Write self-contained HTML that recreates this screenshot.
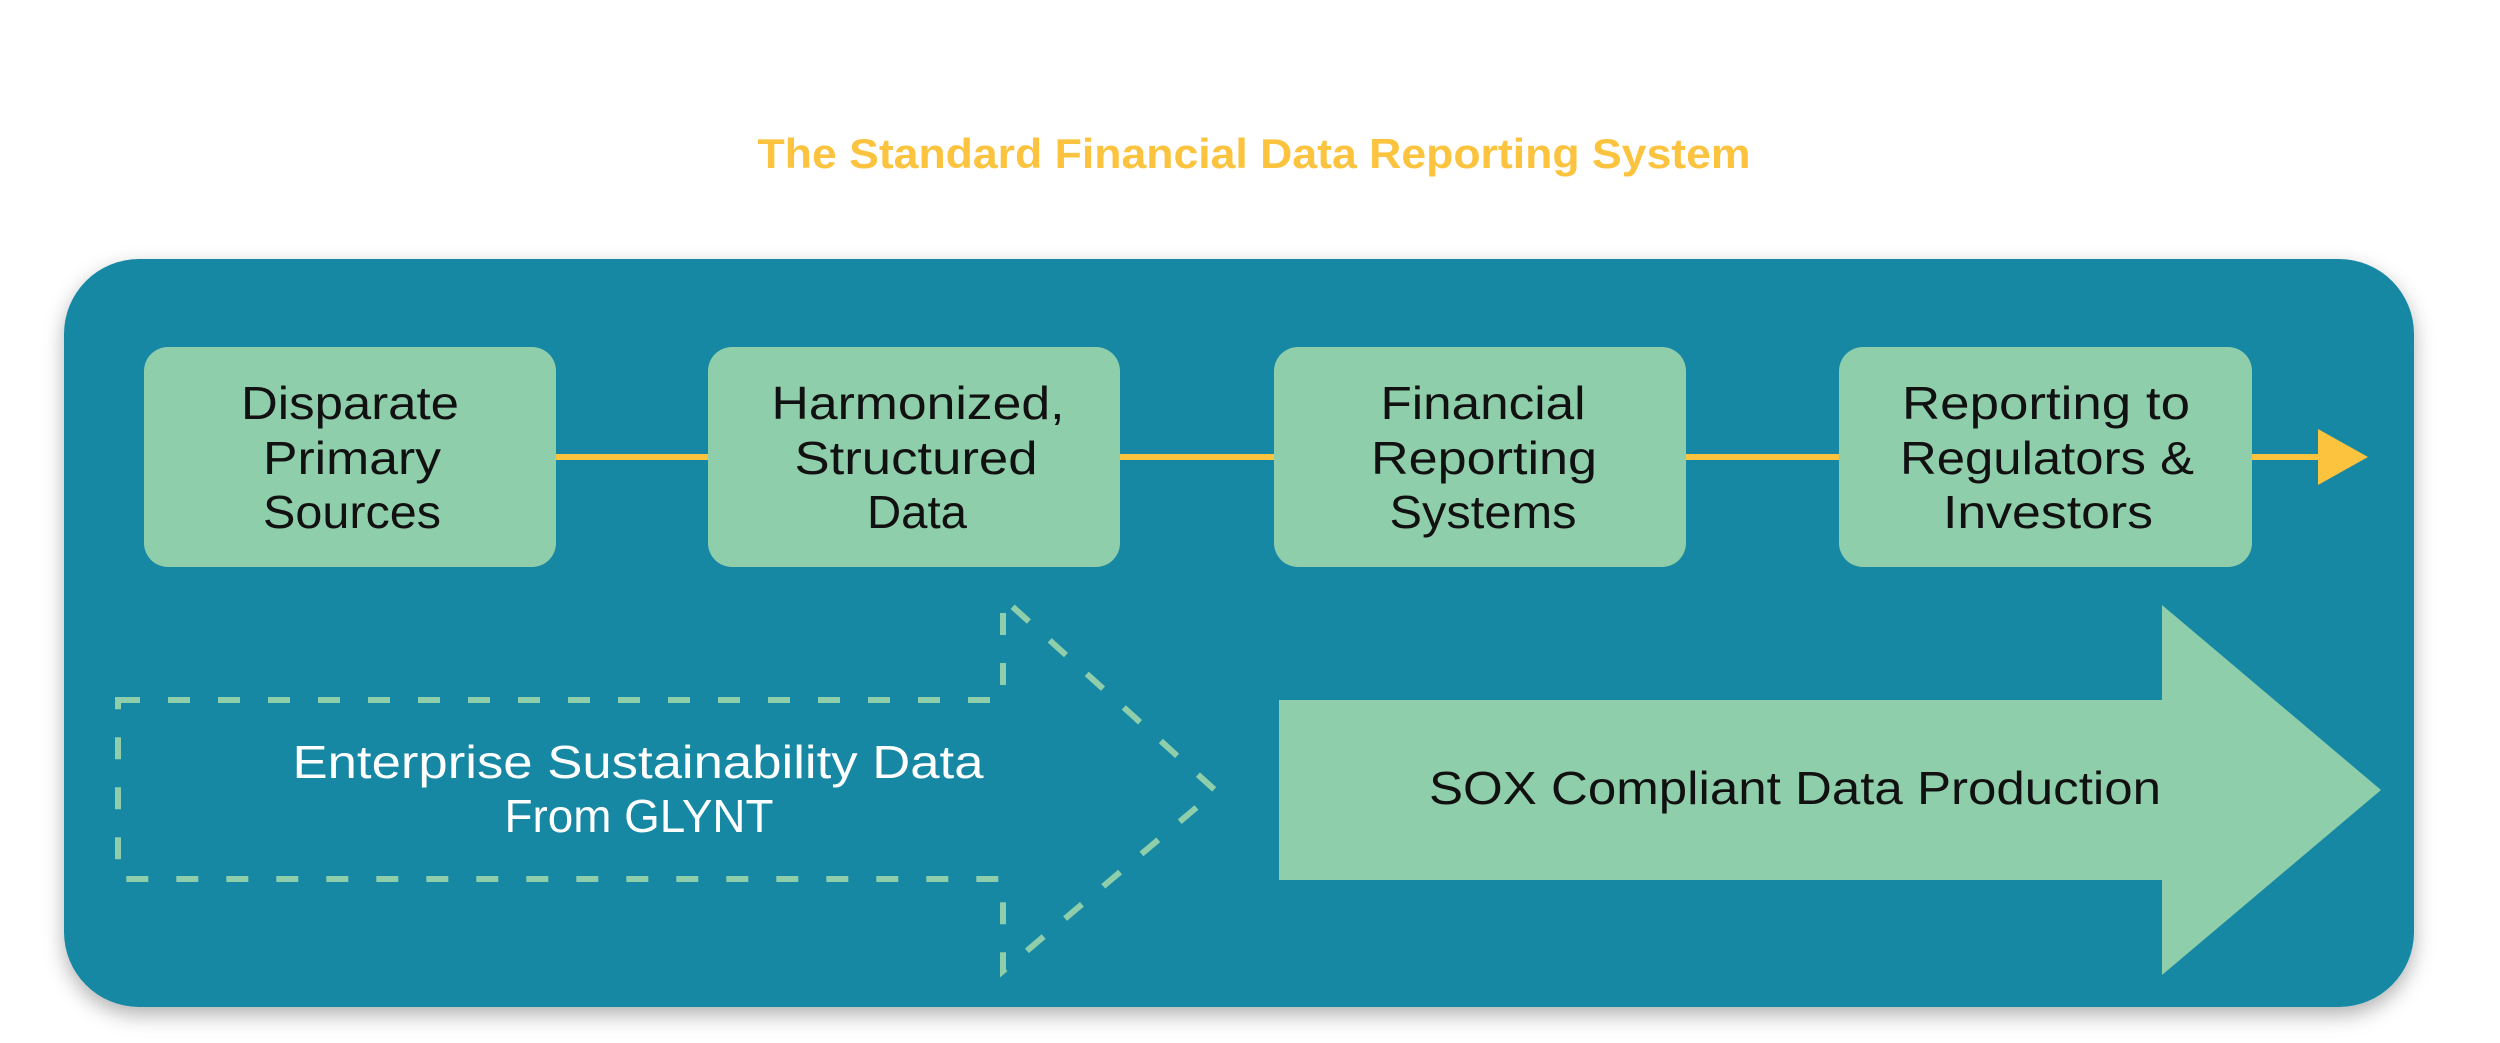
<!DOCTYPE html>
<html><head><meta charset="utf-8"><style>html,body{margin:0;padding:0;background:#fff}svg{display:block}</style></head>
<body>
<svg width="2500" height="1043" viewBox="0 0 2500 1043" xmlns="http://www.w3.org/2000/svg">
<defs>
<filter id="sh" x="-5%" y="-10%" width="110%" height="125%"><feDropShadow dx="0" dy="8" stdDeviation="10" flood-color="#000" flood-opacity="0.3"/></filter>
</defs>
<text x="1254" y="168" text-anchor="middle" font-family="Liberation Sans, sans-serif" font-weight="bold" font-size="42" fill="#fbc33e" textLength="993" lengthAdjust="spacingAndGlyphs">The Standard Financial Data Reporting System</text>
<rect x="64" y="259" width="2350" height="748" rx="75" fill="#1488a3" filter="url(#sh)"/>
<g stroke="#fbc33e" stroke-width="6">
<line x1="556" y1="457" x2="708" y2="457"/>
<line x1="1120" y1="457" x2="1274" y2="457"/>
<line x1="1686" y1="457" x2="1839" y2="457"/>
<line x1="2252" y1="457" x2="2322" y2="457"/>
</g>
<polygon points="2318,429 2368,457 2318,485" fill="#fbc33e"/>
<g fill="#8fceab">
<rect x="144" y="347" width="412" height="220" rx="24"/>
<rect x="708" y="347" width="412" height="220" rx="24"/>
<rect x="1274" y="347" width="412" height="220" rx="24"/>
<rect x="1839" y="347" width="413" height="220" rx="24"/>
<polygon points="1279,700 2162,700 2162,605 2381,790 2162,975 2162,880 1279,880"/>
</g>
<polygon points="118,700 1003,700 1003,598 1216,791 1003,971 1003,879 118,879" fill="none" stroke="#8fceab" stroke-width="6" stroke-dasharray="22,28"/>
<g font-family="Liberation Sans, sans-serif" font-size="46" fill="#111" text-anchor="middle">
<text x="350" y="419" textLength="218" lengthAdjust="spacingAndGlyphs">Disparate</text>
<text x="352" y="474" textLength="178" lengthAdjust="spacingAndGlyphs">Primary</text>
<text x="352" y="528" textLength="178" lengthAdjust="spacingAndGlyphs">Sources</text>
<text x="918" y="419" textLength="293" lengthAdjust="spacingAndGlyphs">Harmonized,</text>
<text x="916" y="474" textLength="243" lengthAdjust="spacingAndGlyphs">Structured</text>
<text x="917" y="528" textLength="100" lengthAdjust="spacingAndGlyphs">Data</text>
<text x="1483" y="419" textLength="205" lengthAdjust="spacingAndGlyphs">Financial</text>
<text x="1484" y="474" textLength="226" lengthAdjust="spacingAndGlyphs">Reporting</text>
<text x="1483" y="528" textLength="187" lengthAdjust="spacingAndGlyphs">Systems</text>
<text x="2046" y="419" textLength="288" lengthAdjust="spacingAndGlyphs">Reporting to</text>
<text x="2047" y="474" textLength="294" lengthAdjust="spacingAndGlyphs">Regulators &amp;</text>
<text x="2048" y="528" textLength="210" lengthAdjust="spacingAndGlyphs">Investors</text>
<text x="1795" y="804" textLength="732" lengthAdjust="spacingAndGlyphs">SOX Compliant Data Production</text>
</g>
<g font-family="Liberation Sans, sans-serif" font-size="46" fill="#fff" text-anchor="middle">
<text x="638" y="778" textLength="691" lengthAdjust="spacingAndGlyphs">Enterprise Sustainability Data</text>
<text x="639" y="832" textLength="269" lengthAdjust="spacingAndGlyphs">From GLYNT</text>
</g>
</svg>
</body></html>
